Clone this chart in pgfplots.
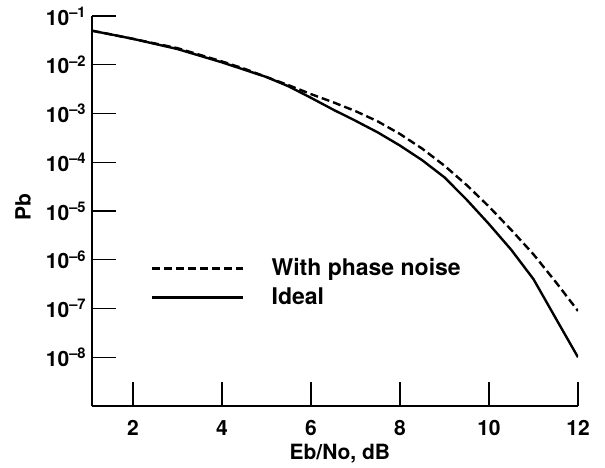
\documentclass[border=0pt]{standalone}
\usepackage{fontspec}
\setmainfont{TeX Gyre Heros}
\usepackage{pgfplots}
\pgfplotsset{compat=1.18}
\begin{document}
\fontsize{10.5}{12}\selectfont\bfseries
\begin{tikzpicture}
\path[use as bounding box] (-46pt,-30.5pt) rectangle (256.5pt,203pt);
\begin{axis}[
  at={(0,0)}, anchor=south west,
  scale only axis, width=243pt, height=195pt,
  ymode=log, xmin=1.08, xmax=12, ymin=1e-9, ymax=1e-1,
  axis x line*=bottom, axis y line*=left,
  axis line style={-, line width=0.6pt},
  every tick/.style={black, line width=0.6pt},
  tick align=inside, major tick length=12pt,
  yminorticks=false, xminorticks=false,
  tick label style={font=\fontsize{10.5}{12}\selectfont\bfseries},
  label style={font=\fontsize{10.5}{12}\selectfont\bfseries},
  xtick={2,4,6,8,10,12}, xticklabels={2,4,6,8,10,12},
  ytick={1e-1,1e-2,1e-3,1e-4,1e-5,1e-6,1e-7,1e-8},
  yticklabels={10\textsuperscript{--1},10\textsuperscript{--2},10\textsuperscript{--3},10\textsuperscript{--4},10\textsuperscript{--5},10\textsuperscript{--6},10\textsuperscript{--7},10\textsuperscript{--8}},
  xticklabel style={anchor=base, yshift=-14.5pt},
  yticklabel style={anchor=east, inner xsep=2.5pt},
  xlabel={Eb/No, dB}, ylabel={Pb},
  every axis x label/.style={at={(axis description cs:0.51,-0.138)}, anchor=base},
  every axis y label/.style={at={(axis description cs:-0.142,0.51)}, rotate=90, anchor=center},
  legend style={at={(axis description cs:0.121,0.39)}, anchor=north west, draw=none, fill=none,
    inner sep=0pt, row sep=0.5pt, font=\fontsize{11.5}{13}\selectfont\bfseries, nodes={inner sep=2pt}},
  legend cell align=left,
  legend image code/.code={\draw[#1] (0pt,0pt) -- (45.5pt,0pt); \path (57pt,0pt);},
]
\addplot[black, line width=1.2pt, dash pattern=on 4pt off 2pt] coordinates {
(1.08,0.050) (2,0.034) (3,0.0219) (4,0.0117) (4.5,8.3e-3) (5,5.6e-3) (5.5,3.8e-3) (6,2.5e-3) (6.5,1.7e-3) (7,1.12e-3) (7.5,6.9e-4) (8,3.8e-4) (8.5,1.9e-4) (9,8.5e-5) (9.5,3.4e-5) (10,1.23e-5) (10.5,4.1e-6) (11,1.29e-6) (11.5,3.5e-7) (12,8.9e-8)
};
\addlegendentry{With phase noise}
\addplot[black, line width=1.2pt] coordinates {
(1.08,0.050) (2,0.034) (3,0.021) (4,0.0112) (5,0.0056) (5.5,0.0036) (6,0.0021) (6.5,1.2e-3) (7,7.1e-4) (7.5,4.1e-4) (8,2.2e-4) (8.5,1.1e-4) (9,4.9e-5) (9.5,1.7e-5) (10,5.4e-6) (10.5,1.6e-6) (11,4.0e-7) (11.5,6.3e-8) (12,1.0e-8)
};
\addlegendentry{Ideal}
\end{axis}
\end{tikzpicture}
\end{document}
